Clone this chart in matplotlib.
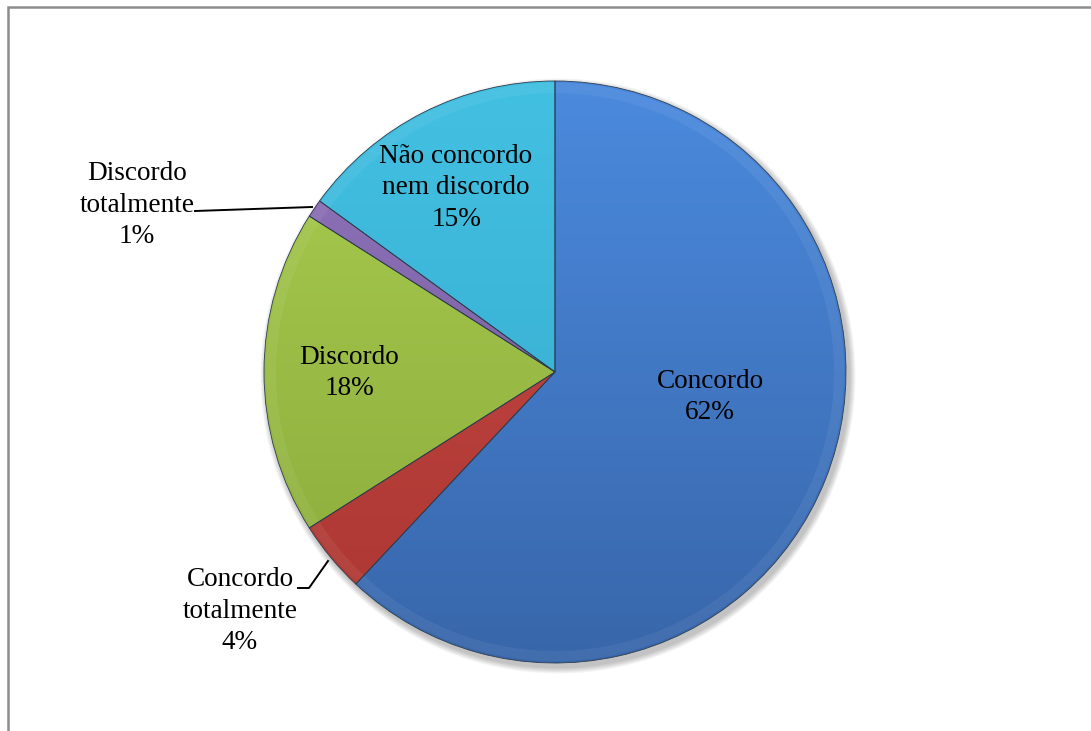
import numpy as np
import matplotlib.pyplot as plt
from matplotlib.colors import LinearSegmentedColormap
from matplotlib.patches import Rectangle, Circle, Wedge

plt.rcParams['font.family'] = ['Liberation Serif', 'DejaVu Serif']

# survey answers, clockwise from 12 o'clock
labels = ["Concordo", "Concordo\ntotalmente", "Discordo", "Discordo\ntotalmente",
          "Não concordo\nnem discordo"]
shares = [62, 4, 18, 1, 15]

# light / dark shade for each slice (top to bottom gradient)
tops = ["#4b8ade", "#c84a45", "#a9cd50", "#9276bd", "#42c0e2"]
bottoms = ["#3866aa", "#ab3632", "#8aa93a", "#6f5494", "#35a8cb"]

W, H = 1091, 731
fig = plt.figure(figsize=(W / 100, H / 100), dpi=100)
ax = fig.add_axes([0, 0, 1, 1])
ax.set_xlim(0, W)
ax.set_ylim(0, H)
ax.axis("off")

cx, cy, r = 555, H - 372, 291

# page frame
ax.add_patch(Rectangle((7.5, -10), W + 20, H - 6.5 + 10, fill=False,
                       edgecolor="#8c8c8c", lw=1.8))

# soft shadow under the pie
for k in range(8):
    ax.add_patch(Circle((cx + 3, cy - 4), r + 1 + k * 0.8, color="#000000",
                        alpha=0.03, lw=0, zorder=1))
ax.add_patch(Circle((cx, cy), r, color="white", lw=0, zorder=1.5))

wedges, _ = ax.pie(shares, center=(cx, cy), radius=r, startangle=90,
                   counterclock=False,
                   wedgeprops=dict(edgecolor="#2a3a4a", linewidth=0.6))
for w in wedges:
    w.set_zorder(2)

grad = np.linspace(0, 1, 256).reshape(-1, 1)
for w, c0, c1 in zip(wedges, tops, bottoms):
    w.set_facecolor("none")
    cmap = LinearSegmentedColormap.from_list("g", [c0, c1])
    im = ax.imshow(grad, cmap=cmap, aspect="auto", zorder=1.8,
                   extent=(cx - r, cx + r, cy - r, cy + r), origin="upper")
    im.set_clip_path(w)
    # faint rim highlight for the bevel look
    ax.add_patch(Wedge((cx, cy), r - 2, w.theta1, w.theta2, width=10,
                       facecolor="white", alpha=0.06, lw=0, zorder=1.9))
ax.set_xlim(0, W)
ax.set_ylim(0, H)

fs = 19.6
txt = dict(fontsize=fs, ha="center", va="center", linespacing=1.33, zorder=5)
ax.text(710, H - 397, f"{labels[0]}\n{shares[0]}%", **txt)
ax.text(240, H - 611, f"{labels[1]}\n{shares[1]}%", **txt)
ax.text(349, H - 373, f"{labels[2]}\n{shares[2]}%", **txt)
ax.text(137, H - 205, f"{labels[3]}\n{shares[3]}%", **txt)
ax.text(456, H - 188, f"{labels[4]}\n{shares[4]}%", **txt)

# leader lines for the two thin slices
ax.plot([195, 312], [H - 211, H - 207], color="black", lw=1.4, zorder=5)
ax.plot([298, 309, 328], [H - 588, H - 588, H - 561], color="black", lw=1.4,
        zorder=5)

fig.savefig("out.png", dpi=100)
